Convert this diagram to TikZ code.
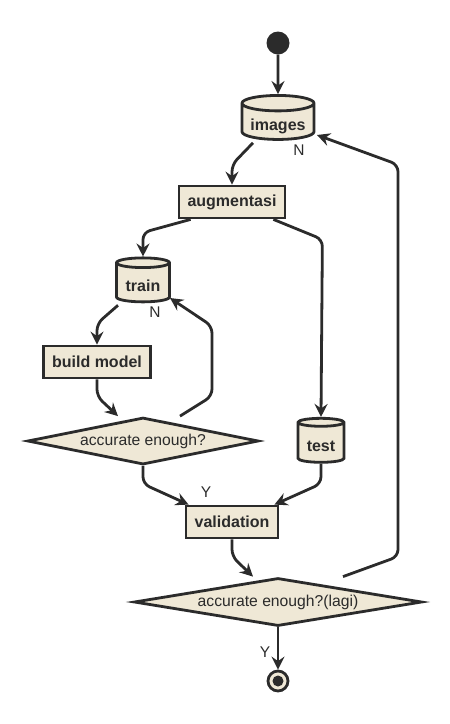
\documentclass[tikz,border=0pt]{standalone}
\usepackage{fontspec}
\setmainfont{Liberation Sans}
\usetikzlibrary{arrows.meta,positioning,shapes.geometric,calc}
\definecolor{umlfill}{HTML}{EFE8D6}
\definecolor{umlline}{HTML}{2B2B2B}

\begin{document}
\begin{tikzpicture}[
  x=1pt, y=-1pt,
  act/.style={draw=umlline, line width=2.8pt, fill=umlfill, inner sep=0pt,
    minimum height=32pt, text=umlline, font=\fontsize{16}{18}\selectfont\bfseries},
  store/.style={cylinder, shape border rotate=90, aspect=0.28, draw=umlline,
    line width=2.8pt, cylinder uses custom fill, cylinder end fill=umlfill,
    cylinder body fill=umlfill, inner sep=0pt, minimum width=#1, minimum height=44pt,
    text height=16pt, text depth=0pt,
    text=umlline, font=\fontsize{16}{18}\selectfont\bfseries},
  decide/.style={diamond, draw=umlline, line width=2.8pt, fill=umlfill, inner sep=0pt,
    text=umlline, font=\fontsize{15.7}{18}\selectfont},
  flow/.style={draw=umlline, line width=2.8pt, rounded corners=7pt, line join=round,
    -{Stealth[length=13pt, width=13pt, inset=4.5pt]}},
  lbl/.style={text=umlline, font=\fontsize{15.5}{18}\selectfont, inner sep=0pt}
]
  \useasboundingbox (0,0) rectangle (450,724);

  % start / stop
  \node[circle, fill=umlline, minimum size=23pt, inner sep=0pt] (start) at (278,43) {};
  \node[circle, draw=umlline, line width=2.8pt, fill=umlfill, minimum size=20pt, inner sep=0pt] (stop) at (278,681) {};
  \node[circle, fill=umlline, minimum size=11pt, inner sep=0pt] (stopdot) at (stop) {};

  % data
  \node[store=72pt] (images) at (278,122) {images};
  \node[store=53pt] (train) at (143,283) {train};
  \node[store=46pt] (test) at (321,443) {test};

  % activities
  \node[act, minimum width=106pt] (augment) at (232,202) {augmentasi};
  \node[act, minimum width=107pt] (build) at (97,362) {build model};
  \node[act, minimum width=92pt] (valid) at (232,522) {validation};

  % decisions
  \node[decide, aspect=4.9, minimum width=231pt, minimum height=47pt] (check) at (143,441) {accurate enough?};
  \node[decide, aspect=6, minimum width=288pt, minimum height=48pt] (recheck) at (278,602) {accurate enough?(lagi)};

  % flows
  \draw[flow] (start) -- (images.north);
  \draw[flow] ($(images.south)+(-25,2)$) -- ($(augment.north)+(0,-20)$) -- (augment.north);
  \draw[flow] ($(augment.south west)+(13,0)$) -- ($(train.north)+(0,-24)$) -- (train.north);
  \draw[flow] ($(augment.south east)+(-13,0)$) -- ++(49,20) -- (test.north);
  \draw[flow] ($(train.south)+(-25,2)$) -- ($(build.north)+(0,-21)$) -- (build.north);
  \draw[flow] (build.south) -- ++(0,17) -- ($(check.north)+(-25,0)$);
  \draw[flow] ($(check.north)+(37,0)$) -- ++(32,-20) -- ++(0,-70) -- ($(train.center)+(27,15)$);
  \draw[flow] (check.south) -- ++(0,18) -- ($(valid.north west)+(4,0)$);
  \draw[flow] (test.south) -- ++(0,20) -- ($(valid.north east)+(-5,0)$);
  \draw[flow] (valid.south) -- ++(0,17) -- ($(recheck.north)+(-25,0)$);
  \draw[flow] ($(recheck.north)+(65,0)$) -- ++(55,-20) -- ++(0,-392) -- ($(images.center)+(39,13)$);
  \draw[flow] (recheck.south) -- (stop.north);

  % guards
  \node[lbl] (trainN) at (155,312) {N};
  \node[lbl] (imagesN) at (299,150) {N};
  \node[lbl] (checkY) at (206,492) {Y};
  \node[lbl] (recheckY) at (265,652) {Y};
\end{tikzpicture}
\end{document}
